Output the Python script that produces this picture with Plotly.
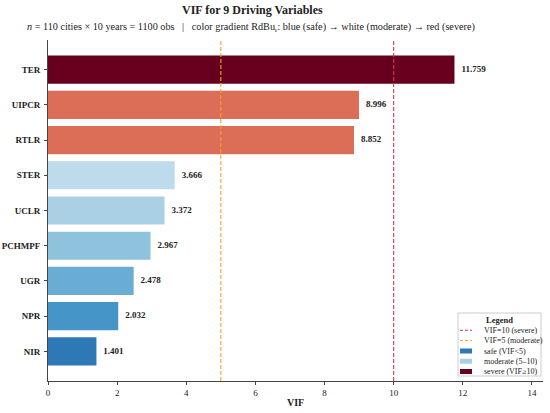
import plotly.graph_objects as go

# VIF values per driving variable (top to bottom as drawn)
variables = ["TER", "UIPCR", "RTLR", "STER", "UCLR", "PCHMPF", "UGR", "NPR", "NIR"]
vif = [11.759, 8.996, 8.852, 3.666, 3.372, 2.967, 2.478, 2.032, 1.401]
bar_colors = ["#67001f", "#dc6d57", "#dc6d57", "#bddbea", "#a9d0e5",
              "#8fc2dd", "#6aadd4", "#4695c8", "#2e78b5"]

thresholds = [10, 5]
threshold_colors = ["#d9344a", "#f5a030"]
threshold_names = ["VIF=10 (severe)", "VIF=5 (moderate)"]

patch_names = ["safe (VIF<5)", "moderate (5\u201310)", "severe (VIF\u226510)"]
patch_colors = ["#2e78b5", "#a9d0e5", "#67001f"]

FONT = "Liberation Serif, Times New Roman, serif"
W, H = 550, 413
L, R, T, B = 48, 7, 40, 32
PW, PH = W - L - R, H - T - B


def px(x):
    return (x - L) / PW


def py(y):
    return (H - B - y) / PH


fig = go.Figure()

fig.add_trace(go.Bar(
    x=vif, y=variables, orientation="h", width=0.8,
    marker=dict(color=bar_colors, line=dict(width=0)),
    showlegend=False, hoverinfo="x+y",
))

# value labels just right of each bar
fig.add_trace(go.Scatter(
    x=[v + 0.2 for v in vif], y=variables, mode="text",
    text=[f"<b>{v:.3f}</b>" for v in vif], textposition="middle right",
    textfont=dict(family=FONT, size=9, color="#222222"),
    showlegend=False, hoverinfo="skip", cliponaxis=False,
))

for xv, col in zip(thresholds, threshold_colors):
    fig.add_shape(type="line", x0=xv, x1=xv, yref="paper", y0=0, y1=1,
                  line=dict(color=col, width=1.1, dash="4px,2px"), layer="above")

# hand-built legend box (bottom right)
fig.add_shape(type="rect", xref="paper", yref="paper",
              x0=px(458), x1=px(541), y0=py(376), y1=py(313),
              line=dict(color="#cccccc", width=1), fillcolor="rgba(255,255,255,0.9)")
fig.add_annotation(text="<b>Legend</b>", xref="paper", yref="paper",
                   x=px(499.5), y=py(320), showarrow=False,
                   xanchor="center", yanchor="middle",
                   font=dict(family=FONT, size=8.5, color="#222222"))
rows = [330.3, 340.6, 351, 361.2, 371.5]
for i, (name, col) in enumerate(zip(threshold_names, threshold_colors)):
    fig.add_shape(type="line", xref="paper", yref="paper",
                  x0=px(460), x1=px(472), y0=py(rows[i]), y1=py(rows[i]),
                  line=dict(color=col, width=1, dash="3px,2px"))
    fig.add_annotation(text=name, xref="paper", yref="paper",
                       x=px(482), y=py(rows[i]), showarrow=False,
                       xanchor="left", yanchor="middle",
                       font=dict(family=FONT, size=8, color="#222222"))
for j, (name, col) in enumerate(zip(patch_names, patch_colors)):
    yy = rows[j + 2]
    fig.add_shape(type="rect", xref="paper", yref="paper",
                  x0=px(460), x1=px(472), y0=py(yy + 2.5), y1=py(yy - 2.5),
                  line=dict(width=0), fillcolor=col)
    fig.add_annotation(text=name, xref="paper", yref="paper",
                       x=px(482), y=py(yy), showarrow=False,
                       xanchor="left", yanchor="middle",
                       font=dict(family=FONT, size=8, color="#222222"))

fig.update_layout(
    width=W, height=H,
    margin=dict(l=L, r=R, t=T, b=B),
    paper_bgcolor="white", plot_bgcolor="white",
    font=dict(family=FONT, size=9, color="#222222"),
    showlegend=False,
    xaxis=dict(
        range=[0, 14.32], tickvals=[0, 2, 4, 6, 8, 10, 12, 14],
        showgrid=False, zeroline=False, automargin=False,
        showline=True, linecolor="#444444", linewidth=1,
        ticks="outside", ticklen=3, tickcolor="#444444",
        tickfont=dict(family=FONT, size=9),
    ),
    yaxis=dict(
        categoryorder="array", categoryarray=variables,
        tickvals=variables, ticktext=[f"<b>{v}</b>" for v in variables],
        range=[8.84, -0.84], showgrid=False, zeroline=False, automargin=False,
        showline=True, linecolor="#444444", linewidth=1,
        ticks="outside", ticklen=3, tickcolor="#444444",
        tickfont=dict(family=FONT, size=9, color="#222222"),
        ticklabelstandoff=2,
    ),
)

fig.add_annotation(
    text="<b>VIF for 9 Driving Variables</b>",
    xref="paper", yref="paper", x=px(252), y=py(10), xanchor="center",
    yanchor="middle", showarrow=False,
    font=dict(family=FONT, size=12, color="#222222"),
)
fig.add_annotation(
    text="<i>n</i> = 110 cities \u00d7 10 years = 1100 obs   |   color gradient RdBu<sub>r</sub>: "
         "blue (safe) \u2192 white (moderate) \u2192 red (severe)",
    xref="paper", yref="paper", x=px(251), y=py(27), xanchor="center",
    yanchor="middle", showarrow=False,
    font=dict(family=FONT, size=10.2, color="#222222"),
)
fig.add_annotation(
    text="<b>VIF</b>", xref="paper", yref="paper", x=0.5, y=py(402),
    xanchor="center", yanchor="middle", showarrow=False,
    font=dict(family=FONT, size=10, color="#222222"),
)

# drop the browser's default body margin so the figure sits at the window corner
fig.write_html(
    "out.html",
    config={"displayModeBar": False},
    post_script="document.body.style.margin='0';document.body.style.overflow='hidden';",
)
